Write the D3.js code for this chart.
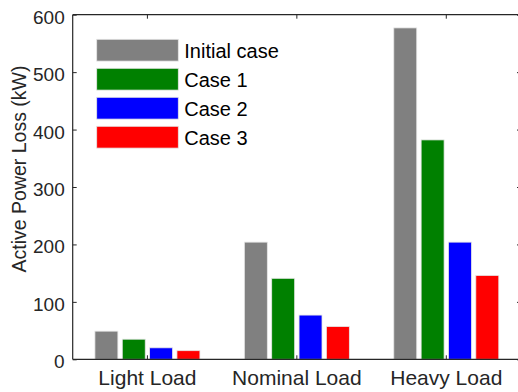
<!DOCTYPE html>
<html>
<head>
<meta charset="utf-8">
<script src="https://cdn.jsdelivr.net/npm/d3@7"></script>
<style>
  html, body { margin: 0; padding: 0; background: #fff; }
  svg { display: block; font-family: "Liberation Sans", Arial, sans-serif; }
</style>
</head>
<body>
<svg width="518" height="392"></svg>
<script>
const categories = ["Light Load", "Nominal Load", "Heavy Load"];
const series = ["Initial case", "Case 1", "Case 2", "Case 3"];
const colors = ["#808080", "#008000", "#0000ff", "#ff0000"];
const initialCase = [49, 204, 577];
const case1 = [35, 141, 382];
const case2 = [20, 77, 204];
const case3 = [15, 57, 146];
const yTicks = [0, 100, 200, 300, 400, 500, 600];

const values = [initialCase, case1, case2, case3];

const box = { left: 72.7, right: 521, top: 14.7, bottom: 359.3 };
const axisColor = "#262626";

const svg = d3.select("svg");

const x = d3.scaleBand().domain(categories).range([box.left, box.right]).padding(0);
const y = d3.scaleLinear().domain([0, 600]).range([box.bottom, box.top]);
const groupWidth = 105;
const xs = d3.scaleBand().domain(series).range([0, groupWidth]).paddingInner(0.16);

// bars
const rows = categories.flatMap((c, ci) =>
  series.map((s, si) => ({ cat: c, s, v: values[si][ci], color: colors[si] }))
);

svg.append("g")
  .selectAll("rect")
  .data(rows)
  .join("rect")
  .attr("x", d => x(d.cat) + x.bandwidth() / 2 - groupWidth / 2 + xs(d.s))
  .attr("y", d => y(d.v))
  .attr("width", xs.bandwidth())
  .attr("height", d => y(0) - y(d.v))
  .attr("fill", d => d.color)
  .attr("stroke", "#e6e6e6")
  .attr("stroke-width", 0.8);

// axes
const axLeft = svg.append("g").attr("transform", `translate(${box.left},0)`)
  .call(d3.axisLeft(y).tickValues(yTicks).tickSize(-4).tickPadding(8));
const axRight = svg.append("g").attr("transform", `translate(${box.right},0)`)
  .call(d3.axisRight(y).tickValues(yTicks).tickSize(-4).tickFormat(""));
const axBottom = svg.append("g").attr("transform", `translate(0,${box.bottom})`)
  .call(d3.axisBottom(x).tickSize(-4).tickPadding(11));
const axTop = svg.append("g").attr("transform", `translate(0,${box.top})`)
  .call(d3.axisTop(x).tickSize(-4).tickFormat(""));

[axLeft, axRight].forEach(g =>
  g.select(".domain").attr("d", `M0,${box.top}V${box.bottom}`));
[axBottom, axTop].forEach(g =>
  g.select(".domain").attr("d", `M${box.left},0H${box.right}`));

[axLeft, axRight, axBottom, axTop].forEach(g => {
  g.select(".domain").attr("stroke", axisColor).attr("stroke-width", 1.2);
  g.selectAll(".tick line").attr("stroke", axisColor);
  g.selectAll(".tick text").attr("fill", axisColor).attr("font-size", 19);
});
axLeft.selectAll(".tick text").attr("dy", "0.45em");
axBottom.selectAll(".tick text").attr("font-size", 21);

// y label
svg.append("text")
  .attr("transform", "translate(26,169) rotate(-90)")
  .attr("text-anchor", "middle")
  .attr("font-size", 19.5)
  .attr("fill", axisColor)
  .text("Active Power Loss (kW)");

// legend
const legend = svg.append("g").attr("transform", "translate(96.7,39.3)");
const lg = legend.selectAll("g")
  .data(series)
  .join("g")
  .attr("transform", (d, i) => `translate(0,${i * 29})`);
lg.append("rect")
  .attr("width", 81.6)
  .attr("height", 21.8)
  .attr("fill", (d, i) => colors[i])
  .attr("stroke", "#e6e6e6")
  .attr("stroke-width", 0.8);
lg.append("text")
  .attr("x", 87.6)
  .attr("y", 19.2)
  .attr("font-size", 20)
  .attr("fill", "#000")
  .text(d => d);
</script>
</body>
</html>
